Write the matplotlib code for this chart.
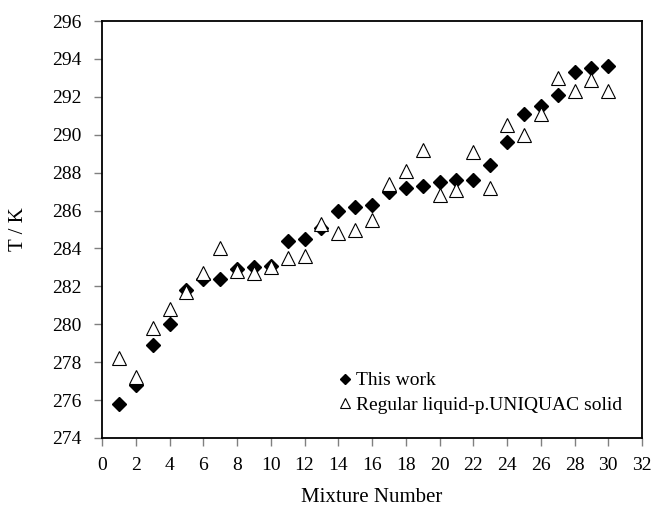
import numpy as np
import matplotlib
matplotlib.use('Agg')
import matplotlib.pyplot as plt

# ------------------------------------------------------
# data
mixture = np.arange(1, 31)
t_this_work = [275.8, 276.8, 278.9, 280.0, 281.8, 282.4, 282.4, 282.9, 283.0, 283.1,
               284.4, 284.5, 285.1, 286.0, 286.2, 286.3, 287.0, 287.2, 287.3, 287.5,
               287.6, 287.6, 288.4, 289.6, 291.1, 291.5, 292.1, 293.3, 293.5, 293.6]
t_uniquac = [278.2, 277.2, 279.8, 280.8, 281.7, 282.7, 284.0, 282.8, 282.7, 283.0,
             283.5, 283.6, 285.3, 284.8, 285.0, 285.5, 287.4, 288.1, 289.2, 286.8,
             287.1, 289.1, 287.2, 290.5, 290.0, 291.1, 293.0, 292.3, 292.9, 292.3]
xticks = np.arange(0, 33, 2)
yticks = np.arange(274, 297, 2)
# ------------------------------------------------------

plt.rcParams['font.family'] = ['Liberation Serif', 'DejaVu Serif']

fig = plt.figure(figsize=(6.53, 5.15), dpi=100)
ax = fig.add_axes([102 / 653, 77 / 515, 540 / 653, 417 / 515])

ax.plot(mixture, t_this_work, 'D', color='black', markersize=7, linestyle='none',
        label='This work')
ax.plot(mixture, t_uniquac, '^', markerfacecolor='white', markeredgecolor='black',
        markeredgewidth=0.8, markersize=10, linestyle='none',
        label='Regular liquid-p.UNIQUAC solid')

ax.set_xlim(0, 32)
ax.set_ylim(274, 296)
ax.set_xticks(xticks)
ax.set_yticks(yticks)
ax.tick_params(direction='out', length=6, width=1, color='gray', labelsize=14)
ax.tick_params(axis='x', pad=8)
ax.tick_params(axis='y', pad=9)
for s in ax.spines.values():
    s.set_linewidth(1.3)

ax.set_xlabel('Mixture Number', fontsize=15)
ax.set_ylabel('T / K', fontsize=15)
ax.xaxis.set_label_coords(0.5, (438 - 488) / 417)
ax.yaxis.set_label_coords((28 - 102) / 540, 0.5)

ax.legend(loc='lower right', bbox_to_anchor=(0.985, 0.03), frameon=False, fontsize=14,
          handletextpad=0.15, labelspacing=0.35, handlelength=0.8, markerscale=0.7,
          borderaxespad=0.2)

fig.savefig('out.png', dpi=100)
